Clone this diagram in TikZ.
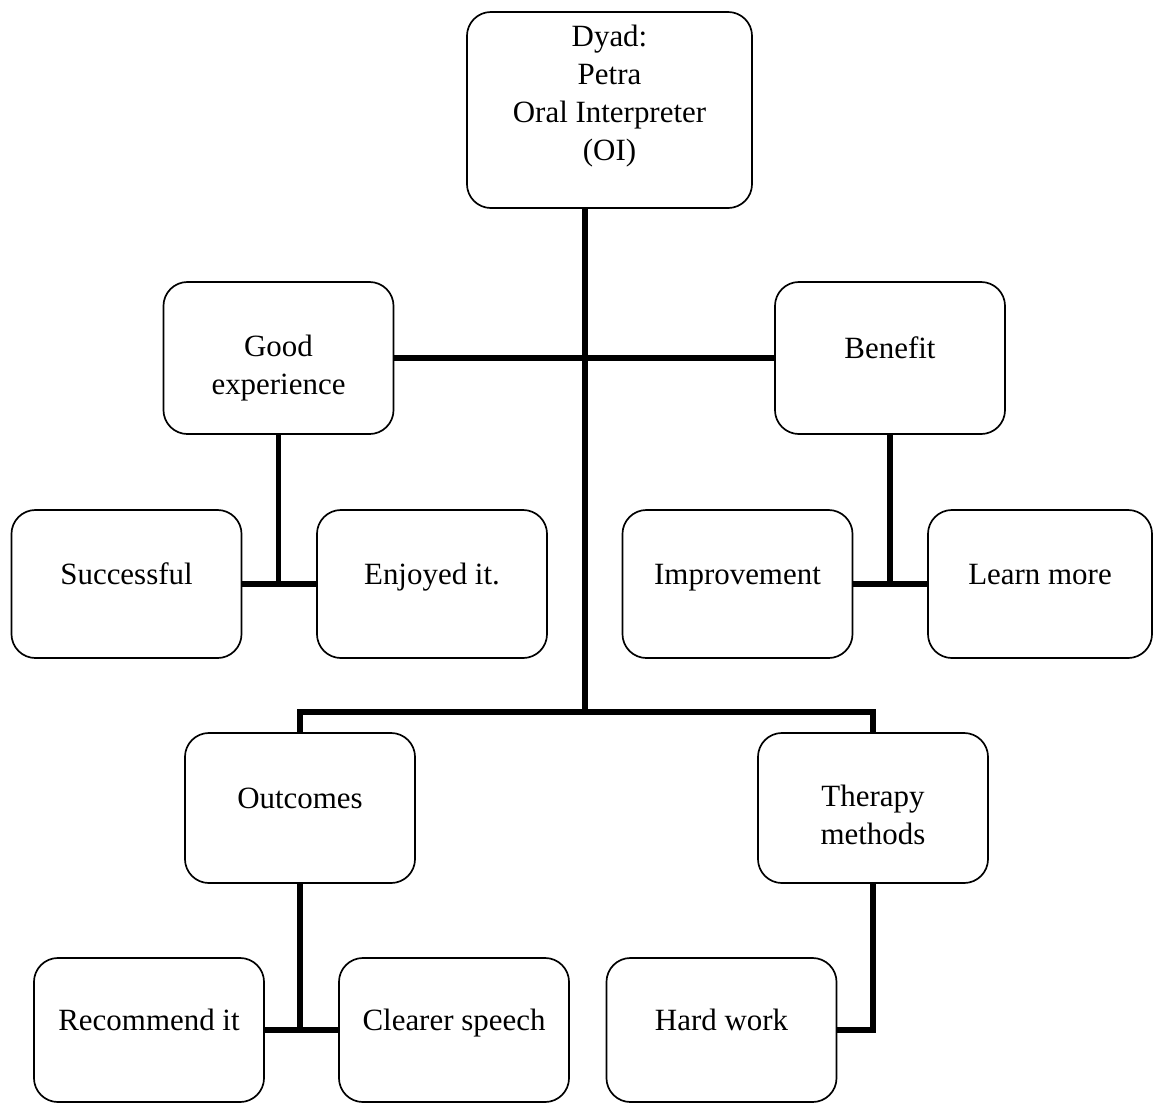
\documentclass[tikz,border=0pt]{standalone}
\usepackage{fontspec}
\setmainfont{Liberation Serif}

\begin{document}
\begin{tikzpicture}[x=0.0125cm,y=-0.0125cm]
				\tikzstyle{every node}=[draw,rounded corners=0.3cm,align=center,line width=0.6pt,
				font=\fontsize{11}{13.5}\selectfont,minimum width=2.875cm,minimum height=1.875cm,inner sep=1pt]
				\tikzstyle{oneline}=[text height=0.4cm,text depth=0.4cm]
				\tikzstyle{twolines}=[text height=1.3cm,text depth=0.4cm]
				\tikzstyle{link}=[line width=1.8pt]
				\useasboundingbox (0,0) rectangle (1153,1103);
				\node (dyad) at (609.5,110) [minimum width=3.5625cm,minimum height=2.45cm,text height=1.65cm,text depth=0.4cm] {Dyad:\\Petra\\Oral Interpreter\\(OI)};
				\node (good) at (278.5,358) [twolines,minimum height=1.9cm] {Good\\experience};
				\node (benefit) at (890,358) [oneline,minimum height=1.9cm] {Benefit};
				\node (succ) at (126.5,584) [oneline,minimum height=1.85cm] {Successful};
				\node (enjoy) at (432,584) [oneline,minimum height=1.85cm] {Enjoyed it.};
				\node (improv) at (737.5,584) [oneline,minimum height=1.85cm] {Improvement};
				\node (learn) at (1040,584) [oneline,minimum width=2.8cm,minimum height=1.85cm] {Learn more};
				\node (outc) at (300,808) [oneline] {Outcomes};
				\node (ther) at (873,808) [twolines] {Therapy\\methods};
				\node (recom) at (149,1030) [oneline,minimum height=1.8cm] {Recommend it};
				\node (clear) at (454,1030) [oneline,minimum height=1.8cm] {Clearer speech};
				\node (hard) at (721.5,1030) [oneline,minimum height=1.8cm] {Hard work};
				\coordinate (hub) at (585,712);
				\draw[link] (dyad.south -| hub) -- (hub);
				\draw[link] (good.east) -- (benefit.west);
				\draw[link] (outc.north) |- (hub) -| (ther.north);
				\draw[link] (succ.east) -- (enjoy.west);
				\draw[link] (good.south) -- (good.south |- succ.east);
				\draw[link] (improv.east) -- (learn.west);
				\draw[link] (benefit.south) -- (benefit.south |- improv.east);
				\draw[link] (recom.east) -- (clear.west);
				\draw[link] (outc.south) -- (outc.south |- recom.east);
				\draw[link] (ther.south) |- (hard.east);
\end{tikzpicture}
\end{document}
